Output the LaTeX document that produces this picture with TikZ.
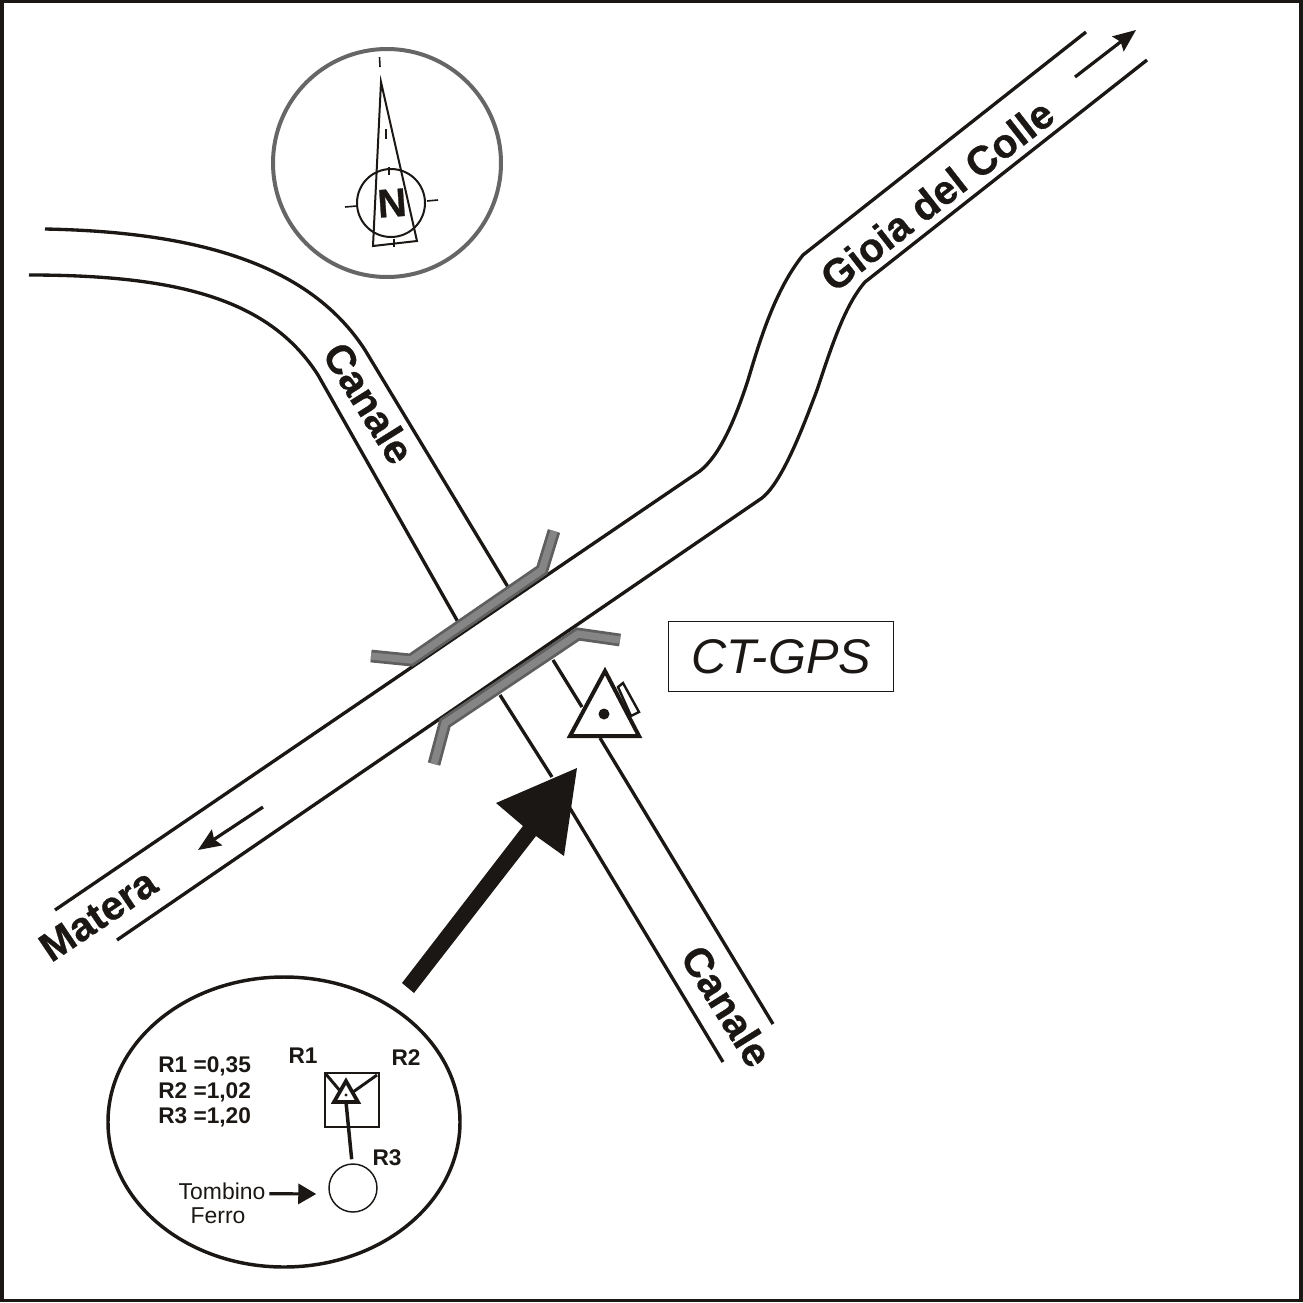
\documentclass[tikz,border=0pt]{standalone}
\usepackage{fontspec}
\setmainfont{Liberation Sans}
\newfontface\heavyface[FakeBold=0.7]{Liberation Sans Bold}
\usetikzlibrary{arrows.meta}
\definecolor{inkblack}{HTML}{1A1714}
\definecolor{bridgeedge}{HTML}{5F5F5F}
\definecolor{bridgefill}{HTML}{858585}
\definecolor{compassring}{HTML}{666666}
\tikzset{
  roadline/.style={draw=inkblack,line width=2.5pt},
  bridgeouter/.style={draw=bridgeedge,line width=9.6pt,line join=miter},
  bridgeinner/.style={draw=bridgefill,line width=5.4pt,line join=miter},
  roadarrow/.style={draw=inkblack,line width=2.4pt,-{Stealth[length=17pt,width=14pt,inset=2.5pt]}},
  maplabel/.style={font=\heavyface\fontsize{30.5}{30.5}\selectfont,text=inkblack,inner sep=0.75pt},
  insetlabel/.style={font=\bfseries\fontsize{17}{17}\selectfont,text=inkblack,inner sep=0.75pt},
  tombinolabel/.style={font=\fontsize{17.2}{17.2}\selectfont,text=inkblack,inner sep=0.75pt}
}
\begin{document}
\begin{tikzpicture}[x=0.75pt,y=0.75pt,yscale=-1,xscale=1]
\useasboundingbox (0,0) rectangle (1303,1303);

%Shape: Frame
\draw [inkblack,line width=2.8pt] (2,1.5) rectangle (1301,1300.5) ;

%Curves: Canale, upper bank
\draw [roadline] (45,229) .. controls (200,232) and (310,265) .. (365,350) -- (508,587) ;
\draw [roadline] (553,660) -- (582,707) ;
\draw [roadline] (600,738) -- (773,1024) ;
%Curves: Canale, lower bank
\draw [roadline] (29,275) .. controls (180,275) and (270,300) .. (318,375) -- (458,622) ;
\draw [roadline] (500,695) -- (552,777) ;
\draw [roadline] (565,800) -- (723,1062) ;

%Curves: road
\draw [roadline] (55,910) -- (700,471) .. controls (720,455) and (735,420) .. (748,380) .. controls (760,340) and (775,290) .. (803,255) -- (1086,32) ;
\draw [roadline] (117,940) -- (762,498) .. controls (782,482) and (802,430) .. (817,390) .. controls (832,345) and (845,305) .. (865,282) -- (1147,60) ;

%Shape: bridges
\draw [bridgeouter] (371,656) -- (411,660) -- (542,570) -- (554,531) ;
\draw [bridgeinner] (371,656) -- (411,660) -- (542,570) -- (554,531) ;
\draw [bridgeouter] (620,640) -- (578,634) -- (445,723) -- (434,764) ;
\draw [bridgeinner] (620,640) -- (578,634) -- (445,723) -- (434,764) ;

%Straight Lines: direction arrows
\coordinate (northTail) at (1075,77) ;
\coordinate (northTip) at (1136,30) ;
\coordinate (southTail) at (263,807) ;
\coordinate (southTip) at (198,850) ;
\draw [roadarrow] (northTail) -- (northTip) ;
\draw [roadarrow] (southTail) -- (southTip) ;

%Shape: station triangle
\draw [inkblack,line width=1.8pt,fill=white] (618,687) -- (623,683) -- (639,712) -- (631,716) -- cycle ;
\draw [inkblack,line width=3pt,fill=white,line join=miter] (605,671) -- (639,736) -- (570,736) -- cycle ;
\fill [inkblack] (604,714) circle [radius=5.5] ;

%Shape: big arrow
\fill [inkblack] (402,983) -- (523,826) -- (496,803) -- (577,768) -- (564,856) -- (536,836) -- (414,993) -- cycle ;

%Shape: compass
\draw [compassring,line width=3pt] (387,163) circle [radius=114] ;
\draw [inkblack,line width=1.5pt] (391,203) circle [radius=34] ;
\draw [inkblack,line width=1.5pt,line join=miter] (381,82) -- (417,241) -- (373,246) -- cycle ;
\draw [inkblack,line width=1.2pt] (379.5,57) -- (380,67) ;
\draw [inkblack,line width=1.2pt] (386,129) -- (386,139) ;
\draw [inkblack,line width=1.2pt] (389,167) -- (389,175) ;
\draw [inkblack,line width=1.2pt] (394,239) -- (394,247) ;
\draw [inkblack,line width=1.2pt] (345,207) -- (357,206) ;
\draw [inkblack,line width=1.2pt] (427,201) -- (438,200) ;

%Shape: inset
\draw [inkblack,line width=2.6pt] (284,1122) ellipse [x radius=176, y radius=145] ;
\draw [inkblack,line width=1.1pt] (325,1073) rectangle (379,1127) ;
\coordinate (triTop) at (346,1102) ;
\coordinate (triLeft) at (341,1092) ;
\coordinate (triRight) at (353,1092) ;
\coordinate (cornerLeft) at (325,1073) ;
\coordinate (cornerRight) at (377,1075) ;
\draw [inkblack,line width=2.2pt] (cornerLeft) -- (triLeft) ;
\draw [inkblack,line width=2.2pt] (cornerRight) -- (triRight) ;
\draw [inkblack,line width=2.8pt,fill=white,line join=miter] (346,1081) -- (358,1102) -- (334,1102) -- cycle ;
\fill [inkblack] (346,1095) circle [radius=1.6] ;
\draw (353,1188) node (tombinoCircle) [circle,draw=inkblack,line width=1.1pt,minimum size=36pt,inner sep=0pt] {} ;
\draw [inkblack,line width=2.6pt] ([xshift=-1pt,yshift=-3pt]tombinoCircle.north) -- (triTop) ;

% Text Node
\draw (668,621) node (ctGpsBox) [anchor=north west,draw=inkblack,line width=1.1pt,minimum width=168.75pt,minimum height=52.5pt,inner sep=0pt,font=\itshape\fontsize{36.5}{36.5}\selectfont,text=inkblack] {CT-GPS} ;
% Text Node
\draw (937,195) node (lblGioia) [maplabel,rotate=38] {Gioia del Colle} ;
% Text Node
\draw (98,915) node (lblMatera) [maplabel,rotate=34] {Matera} ;
% Text Node
\draw (369,403) node (lblCanaleUp) [maplabel,rotate=-58] {Canale} ;
% Text Node
\draw (727,1006) node (lblCanaleDown) [maplabel,rotate=-58] {Canale} ;
% Text Node
\draw (392,203) node (lblNorth) [font=\heavyface\fontsize{30}{30}\selectfont,text=inkblack,inner sep=0.75pt,rotate=4] {N} ;
% Text Node
\draw (157,1066) node (lblRone) [insetlabel,anchor=west] {R1 =0,35} ;
% Text Node
\draw (157,1092) node (lblRtwo) [insetlabel,anchor=west] {R2 =1,02} ;
% Text Node
\draw (157,1117) node (lblRthree) [insetlabel,anchor=west] {R3 =1,20} ;
% Text Node
\draw (303,1056) node (markRone) [insetlabel] {R1} ;
% Text Node
\draw (406,1058) node (markRtwo) [insetlabel] {R2} ;
% Text Node
\draw (387,1158) node (markRthree) [insetlabel] {R3} ;
% Text Node
\draw (222,1191) node (lblTombino) [tombinolabel] {Tombino} ;
% Text Node
\draw (218,1216) node (lblFerro) [tombinolabel] {Ferro} ;

%Straight Lines
\draw [inkblack,line width=2.4pt,-{Triangle[length=13.5pt,width=15pt]}] ([xshift=2pt,yshift=2pt]lblTombino.east) -- ([xshift=-9pt,yshift=4.5pt]tombinoCircle.west) ;
\end{tikzpicture}
\end{document}
